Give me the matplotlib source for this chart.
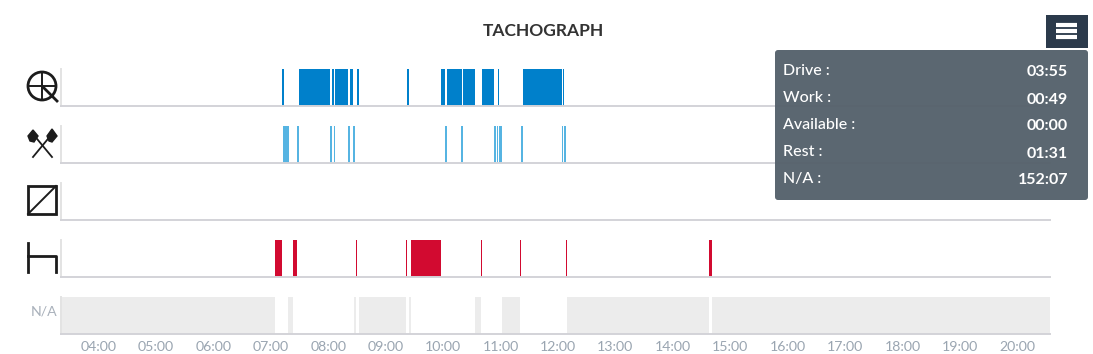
import matplotlib
matplotlib.use('Agg')
import matplotlib.pyplot as plt
from matplotlib.patches import Circle, FancyBboxPatch, Rectangle, Polygon

W, H = 1093, 354

tick_hours = list(range(4, 21))
tick_labels = ['{:02d}:00'.format(h) for h in tick_hours]

# start / end of each block, decimal hours
drive_start = [7.197, 7.493, 8.068, 8.115, 8.376, 8.503, 9.375, 9.962, 10.066, 10.350,
               10.681, 10.934, 10.965, 11.395, 12.092]
drive_end = [7.225, 8.033, 8.103, 8.352, 8.439, 8.538, 9.409, 10.037, 10.328, 10.559,
             10.895, 10.946, 10.977, 12.080, 12.105]
work_start = [7.220, 7.458, 8.033, 8.098, 8.352, 8.439, 10.037, 10.321, 10.895, 10.943,
              10.977, 11.355, 12.075, 12.105]
work_end = [7.314, 7.498, 8.068, 8.115, 8.376, 8.460, 10.066, 10.345, 10.930, 10.965,
            11.024, 11.395, 12.092, 12.145]
avail_start = []
avail_end = []
rest_start = [7.075, 7.389, 8.486, 9.357, 9.444, 10.664, 11.344, 12.145, 14.636]
rest_end = [7.202, 7.463, 8.498, 9.375, 9.962, 10.676, 11.355, 12.167, 14.676]
na_start = [3.347, 7.307, 8.456, 8.533, 9.409, 10.559, 11.024, 12.167, 14.676]
na_end = [7.075, 7.389, 8.486, 9.357, 9.444, 10.664, 11.344, 14.636, 20.57]

rows = [
    (drive_start, drive_end, '#0080cb', 69),
    (work_start, work_end, '#56b4e2', 126),
    (avail_start, avail_end, '#f0ad4e', 183),
    (rest_start, rest_end, '#d20a30', 240),
    (na_start, na_end, '#ececec', 297),
]
row_height = 37

summary_names = ['Drive :', 'Work :', 'Available :', 'Rest :', 'N/A :']
summary_values = ['03:55', '00:49', '00:00', '01:31', '152:07']

plt.rcParams['font.family'] = ['Lato', 'DejaVu Sans']

fig = plt.figure(figsize=(W / 100, H / 100), dpi=100)

x0, x1 = 61, 1050
for i, (starts, ends, colour, top) in enumerate(rows):
    ax = fig.add_axes([x0 / W, 1 - (top + row_height) / H, (x1 - x0) / W, row_height / H])
    ax.set_xlim(3.347, 20.57)
    ax.set_ylim(0, 1)
    ax.broken_barh([(s, e - s) for s, e in zip(starts, ends)], (0, 1), facecolors=colour, linewidth=0)
    ax.set_yticks([])
    for side in ['top', 'right']:
        ax.spines[side].set_visible(False)
    ax.spines['left'].set_color('#e3e3e3')
    ax.spines['left'].set_linewidth(1.4)
    ax.spines['bottom'].set_color('#d3d3d8')
    ax.spines['bottom'].set_linewidth(1.4)
    if i == len(rows) - 1:
        ax.set_xticks(tick_hours)
        ax.set_xticklabels(tick_labels, fontsize=10.2, color='#9aa5b1')
        ax.tick_params(axis='x', length=0, pad=5)
    else:
        ax.set_xticks([])

# overlay in pixel coordinates for icons, title and the summary box
ov = fig.add_axes([0, 0, 1, 1], zorder=10)
ov.set_xlim(0, W)
ov.set_ylim(H, 0)
ov.axis('off')
ov.patch.set_alpha(0)

ov.text(543, 31, 'TACHOGRAPH', ha='center', va='center', fontsize=12.5, fontweight='bold', color='#333333')
ov.text(58, 311, 'N/A', ha='right', va='center', fontsize=10.2, color='#a9b1bb')

ink = '#1c1c1c'
# drive
ov.add_patch(Circle((42, 86), 14, fill=False, ec=ink, lw=2.0))
ov.plot([42, 42], [72, 100], color=ink, lw=1.4)
ov.plot([28, 56], [86, 86], color=ink, lw=1.4)
ov.plot([42, 57], [86, 101], color=ink, lw=2.0)
# work
ov.plot([33, 52], [157, 134], color=ink, lw=1.3)
ov.plot([52, 33], [157, 134], color=ink, lw=1.3)
ov.add_patch(Polygon([(28, 136), (33, 130), (38, 136), (34, 142), (30, 141)], fc=ink, ec=ink))
ov.add_patch(Polygon([(47, 136), (52, 129), (57, 136), (52, 142), (49, 141)], fc=ink, ec=ink))
# available
ov.add_patch(Rectangle((28, 186), 28, 28, fill=False, ec=ink, lw=2.0))
ov.plot([28, 56], [214, 186], color=ink, lw=1.4)
# rest
ov.plot([28, 28], [243, 272], color=ink, lw=2.0)
ov.plot([28, 56, 56], [256, 256, 272], color=ink, lw=2.0)

# menu button
ov.add_patch(Rectangle((1046, 15), 42, 33, fc='#2b3a4b', ec='none'))
for y in [25.2, 31, 36.8]:
    ov.plot([1056, 1077], [y, y], color='white', lw=3.0, solid_capstyle='butt')

# summary box
ov.add_patch(FancyBboxPatch((775, 50), 313, 150, boxstyle='round,pad=0,rounding_size=3',
                            mutation_aspect=1, fc='#56626c', ec='none', alpha=0.97))
for i, (name, value) in enumerate(zip(summary_names, summary_values)):
    y = 71 + i * 27
    ov.text(783, y, name, ha='left', va='center', fontsize=11.5, color='white', fontweight='medium')
    ov.text(1068, y + 1.5, value, ha='right', va='center', fontsize=11.5, color='white', fontweight='bold')

fig.savefig('out.png', dpi=100)
